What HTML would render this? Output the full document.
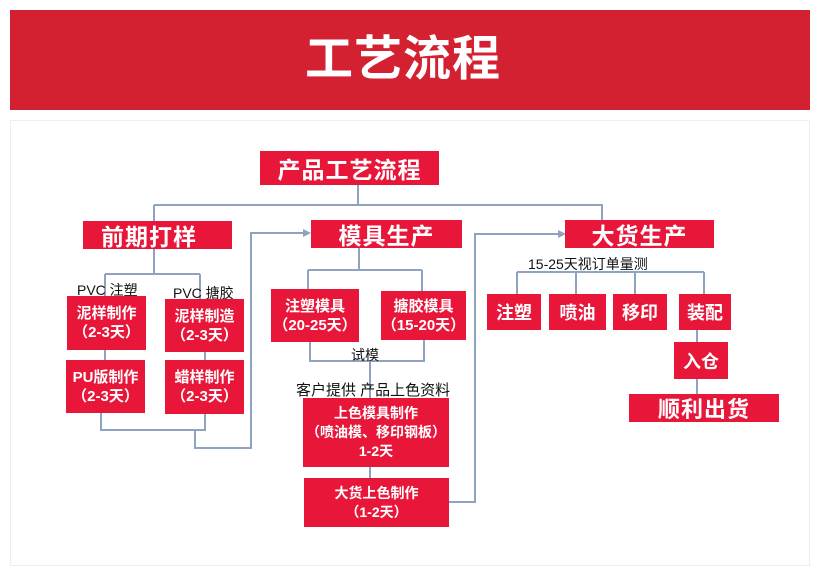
<!DOCTYPE html>
<html><head><meta charset="utf-8"><style>
*{margin:0;padding:0;box-sizing:border-box}
body{width:820px;height:575px;background:#fff;position:relative;overflow:hidden;font-family:"Liberation Sans","Noto Sans CJK SC",sans-serif}
.hd{position:absolute;left:10px;top:10px;width:800px;height:100px;background:#d42132}
.hd span{position:absolute;left:285px;top:0;width:216px;color:#fff;font-size:48px;font-weight:bold;text-align:center;line-height:100px;letter-spacing:1px}
.fr{position:absolute;left:10px;top:120px;width:800px;height:446px;border:1px solid #eee}
.b{position:absolute;background:#e8173a;color:#fff;font-weight:bold;display:flex;align-items:center;justify-content:center;text-align:center;white-space:nowrap}
.L{font-size:23px;letter-spacing:1px}
.s{font-size:15px;line-height:19px}
.t{position:absolute;font-size:14px;color:#111;white-space:nowrap}
</style></head><body>
<div class="hd"><span>工艺流程</span></div>
<div class="fr"></div>
<svg width="820" height="575" style="position:absolute;left:0;top:0">
<g stroke="#8fa3c0" stroke-width="2" fill="none">
<path d="M358 185V205M154 205H602V220M154 205V221"/>
<path d="M154 249V274M105 274H200M105 274V296M200 274V299M105 350V360M205 352V360"/>
<path d="M101 413V430H205V413M195 430V448H251V233H303"/>
<path d="M359 248V270M308 270H422M308 270V289M422 270V291M310 342V361H424V340M370 361V398M370 467V478"/>
<path d="M449 502H475V234H560"/>
<path d="M517 272H704M517 272V294M576 272V294M635 272V294M704 272V294M697 330V342M697 379V394"/>
</g>
<path d="M303 229L311 233L303 237Z" fill="#8fa3c0"/>
<path d="M558 230L566 234L558 238Z" fill="#8fa3c0"/>
</svg>
<div class="b L" style="left:260px;top:151px;width:179px;height:34px">产品工艺流程</div>
<div class="b L" style="left:83px;top:221px;width:149px;height:28px;justify-content:flex-start;padding-left:18px">前期打样</div>
<div class="b L" style="left:311px;top:220px;width:151px;height:28px">模具生产</div>
<div class="b L" style="left:565px;top:220px;width:149px;height:28px">大货生产</div>
<div class="t" style="left:77px;top:280px">PVC 注塑</div>
<div class="t" style="left:173px;top:283px">PVC 搪胶</div>
<div class="b s" style="left:67px;top:296px;width:79px;height:54px">泥样制作<br>（2-3天）</div>
<div class="b s" style="left:165px;top:299px;width:79px;height:53px">泥样制造<br>（2-3天）</div>
<div class="b s" style="left:66px;top:360px;width:79px;height:53px">PU版制作<br>（2-3天）</div>
<div class="b s" style="left:165px;top:360px;width:79px;height:54px">蜡样制作<br>（2-3天）</div>
<div class="b s" style="left:271px;top:289px;width:88px;height:53px">注塑模具<br>（20-25天）</div>
<div class="b s" style="left:381px;top:291px;width:85px;height:49px">搪胶模具<br>（15-20天）</div>
<div class="t" style="left:351px;top:345px">试模</div>
<div class="t" style="left:296px;top:379px;font-size:15px">客户提供 产品上色资料</div>
<div class="b s" style="left:303px;top:398px;width:146px;height:69px;font-size:14px">上色模具制作<br>（喷油模、移印钢板）<br>1-2天</div>
<div class="b s" style="left:304px;top:478px;width:145px;height:49px;font-size:14px">大货上色制作<br>（1-2天）</div>
<div class="t" style="left:528px;top:254px">15-25天视订单量测</div>
<div class="b" style="left:487px;top:294px;width:54px;height:36px;font-size:18px">注塑</div>
<div class="b" style="left:549px;top:294px;width:57px;height:36px;font-size:18px">喷油</div>
<div class="b" style="left:613px;top:294px;width:54px;height:36px;font-size:18px">移印</div>
<div class="b" style="left:679px;top:294px;width:52px;height:36px;font-size:18px">装配</div>
<div class="b" style="left:674px;top:342px;width:54px;height:37px;font-size:18px">入仓</div>
<div class="b L" style="left:629px;top:394px;width:150px;height:28px;font-size:22px">顺利出货</div>
</body></html>
